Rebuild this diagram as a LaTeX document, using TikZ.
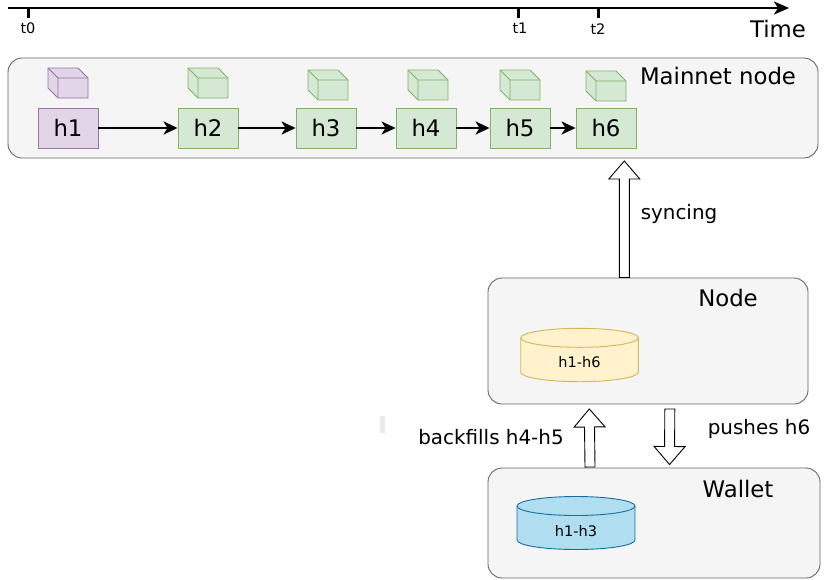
\documentclass[tikz,border=0pt]{standalone}
\usepackage{fontspec}
\setmainfont{DejaVu Sans}
\usetikzlibrary{calc,arrows.meta}
\definecolor{contfill}{HTML}{F5F5F5}
\definecolor{contdraw}{HTML}{666666}
\definecolor{purF}{HTML}{E1D5E7}
\definecolor{purD}{HTML}{9673A6}
\definecolor{grnF}{HTML}{D5E8D4}
\definecolor{grnD}{HTML}{82B366}
\definecolor{yelF}{HTML}{FFF2CC}
\definecolor{yelD}{HTML}{D6B656}
\definecolor{bluF}{HTML}{B1DDF0}
\definecolor{bluD}{HTML}{10739E}
\definecolor{strayF}{HTML}{EBEBEB}
\newcommand{\bigf}{\fontsize{22.8}{27}\selectfont}
\newcommand{\midf}{\fontsize{19.9}{23}\selectfont}
\newcommand{\smallf}{\fontsize{14.5}{17}\selectfont}
\newcommand{\blockarr}[3]{%
  \coordinate (#3) at ($(#2)!18pt!(#1)$);
  \draw[barrow] ($(#1)!5pt!90:(#2)$) -- ($(#3)!5pt!90:(#2)$) -- ($(#3)!15.5pt!90:(#2)$) -- (#2)
    -- ($(#3)!15.5pt!-90:(#2)$) -- ($(#3)!5pt!-90:(#2)$) -- ($(#1)!5pt!-90:(#2)$) -- cycle;}
\newcommand{\cylpath}[5]{% #1 left x, #2 right x, #3 top y, #4 bottom y, #5 style
  \path[#5] (#1,#3+9.5) -- (#1,#4-9.5)
    arc[start angle=180,end angle=360,x radius={(#2-#1)/2*1pt},y radius=9.5pt]
    -- (#2,#3+9.5)
    arc[start angle=0,end angle=180,x radius={(#2-#1)/2*1pt},y radius=9.5pt] -- cycle;
  \path[#5,fill=none] (#1,#3+9.5)
    arc[start angle=180,end angle=360,x radius={(#2-#1)/2*1pt},y radius=9.5pt];}
\tikzset{
  container/.style={draw=contdraw, fill=contfill, rounded corners=14pt, line width=0.9pt},
  hbox/.style={draw, minimum width=60pt, minimum height=40pt, inner sep=0pt, line width=0.9pt, font=\bigf},
  chain/.style={line width=2.7pt, -{Stealth[length=14pt,width=13pt,inset=4pt]}},
  barrow/.style={draw=black, fill=white, line width=0.9pt, line join=miter},
  lbl/.style={inner sep=0pt, anchor=center},
  pics/cube/.style={code={
    \draw[pic actions] (0,0) -- (30,0) -- (40,10) -- (40,30) -- (10,30) -- (0,20) -- cycle;
    \draw[pic actions, fill=none] (0,0) -- (10,10) -- (40,10) (10,10) -- (10,30);
  }},
}
\begin{document}
\begin{tikzpicture}[x=1pt,y=-1pt]
\useasboundingbox (0,0) rectangle (829,579);
\fill[white] (0,0) rectangle (829,579);

% timeline
\coordinate (tstart) at (8,8);
\coordinate (tend) at (789,8);
\draw[line width=2.9pt, -{Stealth[length=15pt,width=13pt,inset=4pt]}] (tstart) -- (tend);
\coordinate (k0) at (28,8);
\coordinate (k1) at (518,8);
\coordinate (k2) at (598,8);
\foreach \k in {k0,k1,k2} \draw[line width=3pt] (\k) -- ++(0,10);
\node[lbl, font=\smallf] (t0) at (28,28) {t0};
\node[lbl, font=\smallf] (t1) at (520,28) {t1};
\node[lbl, font=\smallf] (t2) at (598,29.5) {t2};
\node[lbl, font=\bigf] (time) at (778,29) {Time};

% mainnet container
\node[container, minimum width=810pt, minimum height=100pt, inner sep=0pt] (mainnet) at (413,108) {};
\node[lbl, font=\bigf] (mainlbl) at (718,76) {Mainnet node};

% cubes
\pic[draw=purD, fill=purF, line width=0.9pt] at (48,68) {cube};
\pic[draw=grnD, fill=grnF, line width=0.9pt] at (188,68) {cube};
\pic[draw=grnD, fill=grnF, line width=0.9pt] at (308,70) {cube};
\pic[draw=grnD, fill=grnF, line width=0.9pt] at (408,70) {cube};
\pic[draw=grnD, fill=grnF, line width=0.9pt] at (500,70) {cube};
\pic[draw=grnD, fill=grnF, line width=0.9pt] at (586,71) {cube};

% chain
\node[hbox, draw=purD, fill=purF] (h1) at (68,128) {h1};
\node[hbox, draw=grnD, fill=grnF] (h2) at (208,128) {h2};
\node[hbox, draw=grnD, fill=grnF] (h3) at (326,128) {h3};
\node[hbox, draw=grnD, fill=grnF] (h4) at (426,128) {h4};
\node[hbox, draw=grnD, fill=grnF] (h5) at (520,128) {h5};
\node[hbox, draw=grnD, fill=grnF] (h6) at (606,128) {h6};
\draw[chain] (h1) -- (h2);
\draw[chain] (h2) -- (h3);
\draw[chain] (h3) -- (h4);
\draw[chain] (h4) -- (h5);
\draw[chain] (h5) -- (h6);

% node container
\node[container, minimum width=320pt, minimum height=126pt, inner sep=0pt] (nodebox) at (648,341) {};
\node[lbl, font=\bigf] (nodelbl) at (728,298) {Node};
\cylpath{520.7}{638.3}{328.3}{381.7}{draw=yelD, fill=yelF, line width=0.9pt}
\node[lbl, font=\smallf] (db1) at (579.5,362) {h1-h6};

% wallet container
\node[container, minimum width=332pt, minimum height=110pt, inner sep=0pt] (walletbox) at (654,523) {};
\node[lbl, font=\bigf] (walletlbl) at (738,489) {Wallet};
\cylpath{517}{635}{496.5}{549.5}{draw=bluD, fill=bluF, line width=0.9pt}
\node[lbl, font=\smallf] (db2) at (576,531) {h1-h3};

% stray mark
\fill[strayF] (380,416) rectangle (385,433);

% block arrows
\coordinate (syncS) at (624.3,277.5);
\coordinate (syncT) at (624.3,161);
\blockarr{syncS}{syncT}{syncH}
\node[lbl, font=\midf] (synclbl) at (679,214) {syncing};

\coordinate (backS) at (590,467);
\coordinate (backT) at (589.3,409);
\blockarr{backS}{backT}{backH}
\node[lbl, font=\midf] (backlbl) at (491,437) {backfills h4-h5};

\coordinate (pushS) at (669.8,409);
\coordinate (pushT) at (669.5,464.5);
\blockarr{pushS}{pushT}{pushH}
\node[lbl, font=\midf] (pushlbl) at (759,429) {pushes h6};
\end{tikzpicture}
\end{document}
